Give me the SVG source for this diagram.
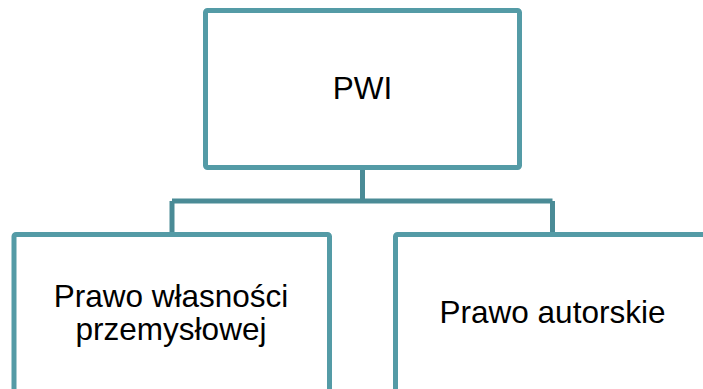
<svg xmlns="http://www.w3.org/2000/svg" width="703" height="389" viewBox="0 0 703 389">
<style>
.box{fill:#ffffff;stroke:#549ba6;stroke-width:5;}
.conn{fill:none;stroke:#4a8b96;stroke-width:5;}
.t{font-family:"Liberation Sans",Arial,sans-serif;font-size:31.5px;fill:#000000;text-anchor:middle;}
</style>
<rect width="703" height="389" fill="#ffffff"/>
<g id="connectors">
<path class="conn" d="M362.5 167.5 V201 M172 201 H552.5 M172 201 V234.5 M552.5 201 V234.5"/>
</g>
<g id="node-pwi">
<rect class="box" x="205.5" y="10.5" width="314" height="157" rx="2"/>
<text class="t" x="362.5" y="99">PWI</text>
</g>
<g id="node-wlasnosc">
<rect class="box" x="14" y="234.5" width="315.5" height="160" rx="2"/>
<text class="t" x="171" y="306.5">Prawo własności</text>
<text class="t" x="171" y="340">przemysłowej</text>
</g>
<g id="node-autorskie">
<rect class="box" x="395.5" y="234.5" width="315.5" height="160" rx="2"/>
<text class="t" x="552.5" y="322.5">Prawo autorskie</text>
</g>
</svg>
